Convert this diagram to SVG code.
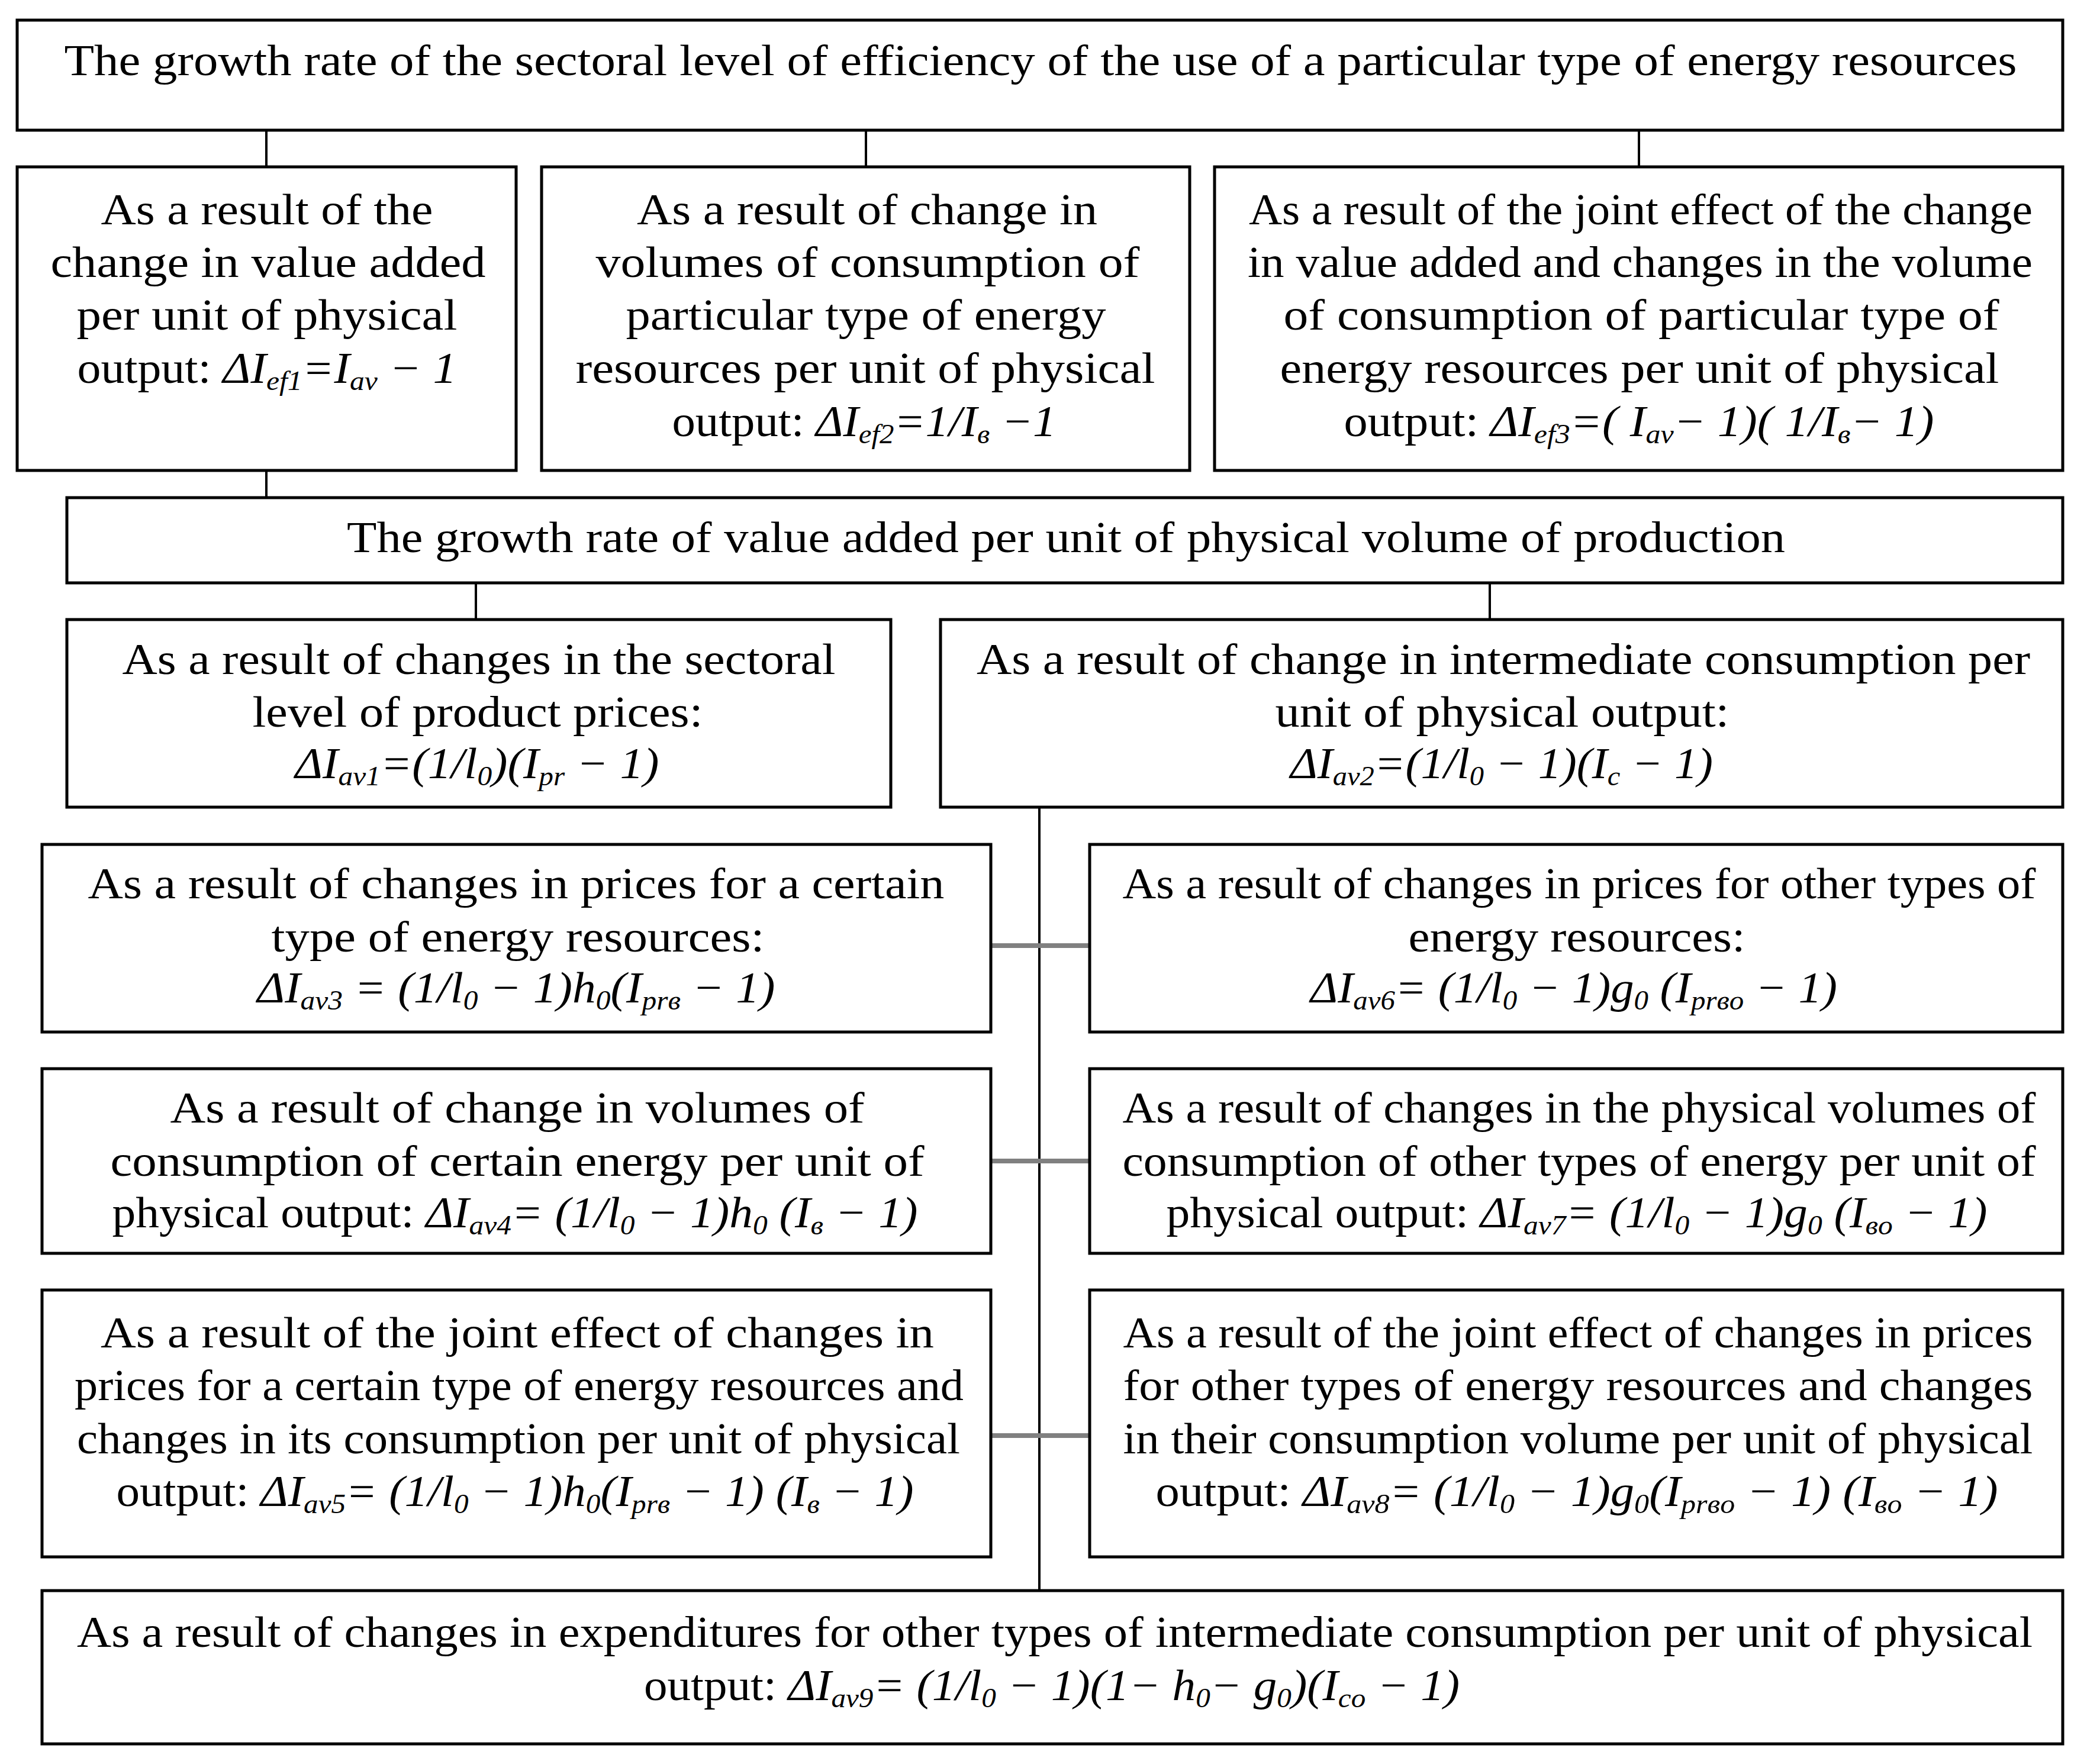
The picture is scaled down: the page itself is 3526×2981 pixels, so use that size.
<svg xmlns="http://www.w3.org/2000/svg" width="3526" height="2981" viewBox="0 0 3526 2981">
<style>
.box{fill:#fff;stroke:#000;stroke-width:5}
.t{font-family:"Liberation Serif","Times New Roman",serif;font-size:74px;fill:#000;text-anchor:middle}
.f{font-style:italic}
.s{font-size:46px}
.link{stroke:#000;stroke-width:4;fill:none}
.glink{stroke:#808080;stroke-width:8;fill:none}
</style>
<rect x="0" y="0" width="3526" height="2981" fill="#fff"/>
<g id="connectors">
<line class="link" x1="450" y1="220" x2="450" y2="282"/>
<line class="link" x1="1463" y1="220" x2="1463" y2="282"/>
<line class="link" x1="2769" y1="220" x2="2769" y2="282"/>
<line class="link" x1="450" y1="795" x2="450" y2="841"/>
<line class="link" x1="804" y1="985" x2="804" y2="1047"/>
<line class="link" x1="2517" y1="985" x2="2517" y2="1047"/>
<line class="link" x1="1756" y1="1364" x2="1756" y2="2688"/>
<line class="glink" x1="1674" y1="1598" x2="1841" y2="1598"/>
<line class="glink" x1="1674" y1="1962" x2="1841" y2="1962"/>
<line class="glink" x1="1674" y1="2426" x2="1841" y2="2426"/>
</g>
<g id="node-top">
<rect class="box" x="29" y="34" width="3456" height="186"/>
<text class="t" x="1758" y="127" textLength="3299" lengthAdjust="spacingAndGlyphs">The growth rate of the sectoral level of efficiency of the use of a particular type of energy resources</text>
</g>
<g id="node-ef1">
<rect class="box" x="29" y="282" width="843" height="513"/>
<text class="t" x="451" y="379" textLength="561" lengthAdjust="spacingAndGlyphs">As a result of the</text>
<text class="t" x="453" y="468" textLength="735" lengthAdjust="spacingAndGlyphs">change in value added</text>
<text class="t" x="451" y="557" textLength="643" lengthAdjust="spacingAndGlyphs">per unit of physical</text>
<text class="t" x="451" y="647" textLength="641" lengthAdjust="spacingAndGlyphs">output: <tspan class="f">ΔI<tspan class="s" dy="12">ef1</tspan><tspan dy="-12">=I</tspan><tspan class="s" dy="12">av</tspan><tspan dy="-12"> − 1</tspan></tspan></text>
</g>
<g id="node-ef2">
<rect class="box" x="915" y="282" width="1095" height="513"/>
<text class="t" x="1465" y="379" textLength="778" lengthAdjust="spacingAndGlyphs">As a result of change in</text>
<text class="t" x="1466" y="468" textLength="919" lengthAdjust="spacingAndGlyphs">volumes of consumption of</text>
<text class="t" x="1463" y="557" textLength="811" lengthAdjust="spacingAndGlyphs">particular type of energy</text>
<text class="t" x="1462" y="647" textLength="979" lengthAdjust="spacingAndGlyphs">resources per unit of physical</text>
<text class="t" x="1460" y="737" textLength="649" lengthAdjust="spacingAndGlyphs">output: <tspan class="f">ΔI<tspan class="s" dy="12">ef2</tspan><tspan dy="-12">=1/I</tspan><tspan class="s" dy="12">в</tspan><tspan dy="-12"> −1</tspan></tspan></text>
</g>
<g id="node-ef3">
<rect class="box" x="2052" y="282" width="1433" height="513"/>
<text class="t" x="2772" y="379" textLength="1324" lengthAdjust="spacingAndGlyphs">As a result of the joint effect of the change</text>
<text class="t" x="2771" y="468" textLength="1326" lengthAdjust="spacingAndGlyphs">in value added and changes in the volume</text>
<text class="t" x="2773" y="557" textLength="1209" lengthAdjust="spacingAndGlyphs">of consumption of particular type of</text>
<text class="t" x="2770" y="647" textLength="1215" lengthAdjust="spacingAndGlyphs">energy resources per unit of physical</text>
<text class="t" x="2769" y="737" textLength="997" lengthAdjust="spacingAndGlyphs">output: <tspan class="f">ΔI<tspan class="s" dy="12">ef3</tspan><tspan dy="-12">=( I</tspan><tspan class="s" dy="12">av</tspan><tspan dy="-12">− 1)( 1/I</tspan><tspan class="s" dy="12">в</tspan><tspan dy="-12">− 1)</tspan></tspan></text>
</g>
<g id="node-value-added">
<rect class="box" x="113" y="841" width="3372" height="144"/>
<text class="t" x="1801" y="933" textLength="2430" lengthAdjust="spacingAndGlyphs">The growth rate of value added per unit of physical volume of production</text>
</g>
<g id="node-av1">
<rect class="box" x="113" y="1047" width="1392" height="317"/>
<text class="t" x="809" y="1139" textLength="1205" lengthAdjust="spacingAndGlyphs">As a result of changes in the sectoral</text>
<text class="t" x="807" y="1228" textLength="761" lengthAdjust="spacingAndGlyphs">level of product prices:</text>
<text class="t f" x="806" y="1315" textLength="615" lengthAdjust="spacingAndGlyphs">ΔI<tspan class="s" dy="12">av1</tspan><tspan dy="-12">=(1/l</tspan><tspan class="s" dy="12">0</tspan><tspan dy="-12">)(I</tspan><tspan class="s" dy="12">pr</tspan><tspan dy="-12"> − 1)</tspan></text>
</g>
<g id="node-av2">
<rect class="box" x="1589" y="1047" width="1896" height="317"/>
<text class="t" x="2540" y="1139" textLength="1780" lengthAdjust="spacingAndGlyphs">As a result of change in intermediate consumption per</text>
<text class="t" x="2538" y="1228" textLength="767" lengthAdjust="spacingAndGlyphs">unit of physical output:</text>
<text class="t f" x="2537" y="1315" textLength="714" lengthAdjust="spacingAndGlyphs">ΔI<tspan class="s" dy="12">av2</tspan><tspan dy="-12">=(1/l</tspan><tspan class="s" dy="12">0</tspan><tspan dy="-12"> − 1)(I</tspan><tspan class="s" dy="12">c</tspan><tspan dy="-12"> − 1)</tspan></text>
</g>
<g id="node-av3">
<rect class="box" x="71" y="1427" width="1603" height="317"/>
<text class="t" x="872" y="1518" textLength="1447" lengthAdjust="spacingAndGlyphs">As a result of changes in prices for a certain</text>
<text class="t" x="875" y="1608" textLength="833" lengthAdjust="spacingAndGlyphs">type of energy resources:</text>
<text class="t f" x="872" y="1694" textLength="875" lengthAdjust="spacingAndGlyphs">ΔI<tspan class="s" dy="12">av3</tspan><tspan dy="-12"> = (1/l</tspan><tspan class="s" dy="12">0</tspan><tspan dy="-12"> − 1)h</tspan><tspan class="s" dy="12">0</tspan><tspan dy="-12">(I</tspan><tspan class="s" dy="12">prв</tspan><tspan dy="-12"> − 1)</tspan></text>
</g>
<g id="node-av6">
<rect class="box" x="1841" y="1427" width="1644" height="317"/>
<text class="t" x="2668" y="1518" textLength="1543" lengthAdjust="spacingAndGlyphs">As a result of changes in prices for other types of</text>
<text class="t" x="2664" y="1608" textLength="569" lengthAdjust="spacingAndGlyphs">energy resources:</text>
<text class="t f" x="2659" y="1694" textLength="890" lengthAdjust="spacingAndGlyphs">ΔI<tspan class="s" dy="12">av6</tspan><tspan dy="-12">= (1/l</tspan><tspan class="s" dy="12">0</tspan><tspan dy="-12"> − 1)g</tspan><tspan class="s" dy="12">0</tspan><tspan dy="-12"> (I</tspan><tspan class="s" dy="12">prвo</tspan><tspan dy="-12"> − 1)</tspan></text>
</g>
<g id="node-av4">
<rect class="box" x="71" y="1806" width="1603" height="312"/>
<text class="t" x="874" y="1897" textLength="1173" lengthAdjust="spacingAndGlyphs">As a result of change in volumes of</text>
<text class="t" x="874" y="1987" textLength="1375" lengthAdjust="spacingAndGlyphs">consumption of certain energy per unit of</text>
<text class="t" x="870" y="2074" textLength="1361" lengthAdjust="spacingAndGlyphs">physical output: <tspan class="f">ΔI<tspan class="s" dy="12">av4</tspan><tspan dy="-12">= (1/l</tspan><tspan class="s" dy="12">0</tspan><tspan dy="-12"> − 1)h</tspan><tspan class="s" dy="12">0</tspan><tspan dy="-12"> (I</tspan><tspan class="s" dy="12">в</tspan><tspan dy="-12"> − 1)</tspan></tspan></text>
</g>
<g id="node-av7">
<rect class="box" x="1841" y="1806" width="1644" height="312"/>
<text class="t" x="2668" y="1897" textLength="1543" lengthAdjust="spacingAndGlyphs">As a result of changes in the physical volumes of</text>
<text class="t" x="2668" y="1987" textLength="1543" lengthAdjust="spacingAndGlyphs">consumption of other types of energy per unit of</text>
<text class="t" x="2664" y="2074" textLength="1387" lengthAdjust="spacingAndGlyphs">physical output: <tspan class="f">ΔI<tspan class="s" dy="12">av7</tspan><tspan dy="-12">= (1/l</tspan><tspan class="s" dy="12">0</tspan><tspan dy="-12"> − 1)g</tspan><tspan class="s" dy="12">0</tspan><tspan dy="-12"> (I</tspan><tspan class="s" dy="12">вo</tspan><tspan dy="-12"> − 1)</tspan></tspan></text>
</g>
<g id="node-av5">
<rect class="box" x="71" y="2180" width="1603" height="451"/>
<text class="t" x="874" y="2277" textLength="1408" lengthAdjust="spacingAndGlyphs">As a result of the joint effect of changes in</text>
<text class="t" x="877" y="2366" textLength="1502" lengthAdjust="spacingAndGlyphs">prices for a certain type of energy resources and</text>
<text class="t" x="876" y="2456" textLength="1492" lengthAdjust="spacingAndGlyphs">changes in its consumption per unit of physical</text>
<text class="t" x="870" y="2545" textLength="1347" lengthAdjust="spacingAndGlyphs">output: <tspan class="f">ΔI<tspan class="s" dy="12">av5</tspan><tspan dy="-12">= (1/l</tspan><tspan class="s" dy="12">0</tspan><tspan dy="-12"> − 1)h</tspan><tspan class="s" dy="12">0</tspan><tspan dy="-12">(I</tspan><tspan class="s" dy="12">prв</tspan><tspan dy="-12"> − 1) (I</tspan><tspan class="s" dy="12">в</tspan><tspan dy="-12"> − 1)</tspan></tspan></text>
</g>
<g id="node-av8">
<rect class="box" x="1841" y="2180" width="1644" height="451"/>
<text class="t" x="2666" y="2277" textLength="1537" lengthAdjust="spacingAndGlyphs">As a result of the joint effect of changes in prices</text>
<text class="t" x="2666" y="2366" textLength="1537" lengthAdjust="spacingAndGlyphs">for other types of energy resources and changes</text>
<text class="t" x="2666" y="2456" textLength="1537" lengthAdjust="spacingAndGlyphs">in their consumption volume per unit of physical</text>
<text class="t" x="2664" y="2545" textLength="1423" lengthAdjust="spacingAndGlyphs">output: <tspan class="f">ΔI<tspan class="s" dy="12">av8</tspan><tspan dy="-12">= (1/l</tspan><tspan class="s" dy="12">0</tspan><tspan dy="-12"> − 1)g</tspan><tspan class="s" dy="12">0</tspan><tspan dy="-12">(I</tspan><tspan class="s" dy="12">prвo</tspan><tspan dy="-12"> − 1) (I</tspan><tspan class="s" dy="12">вo</tspan><tspan dy="-12"> − 1)</tspan></tspan></text>
</g>
<g id="node-av9">
<rect class="box" x="71" y="2688" width="3414" height="259"/>
<text class="t" x="1782" y="2783" textLength="3304" lengthAdjust="spacingAndGlyphs">As a result of changes in expenditures for other types of intermediate consumption per unit of physical</text>
<text class="t" x="1777" y="2873" textLength="1378" lengthAdjust="spacingAndGlyphs">output: <tspan class="f">ΔI<tspan class="s" dy="12">av9</tspan><tspan dy="-12">= (1/l</tspan><tspan class="s" dy="12">0</tspan><tspan dy="-12"> − 1)(1− h</tspan><tspan class="s" dy="12">0</tspan><tspan dy="-12">− g</tspan><tspan class="s" dy="12">0</tspan><tspan dy="-12">)(I</tspan><tspan class="s" dy="12">co</tspan><tspan dy="-12"> − 1)</tspan></tspan></text>
</g>
</svg>
